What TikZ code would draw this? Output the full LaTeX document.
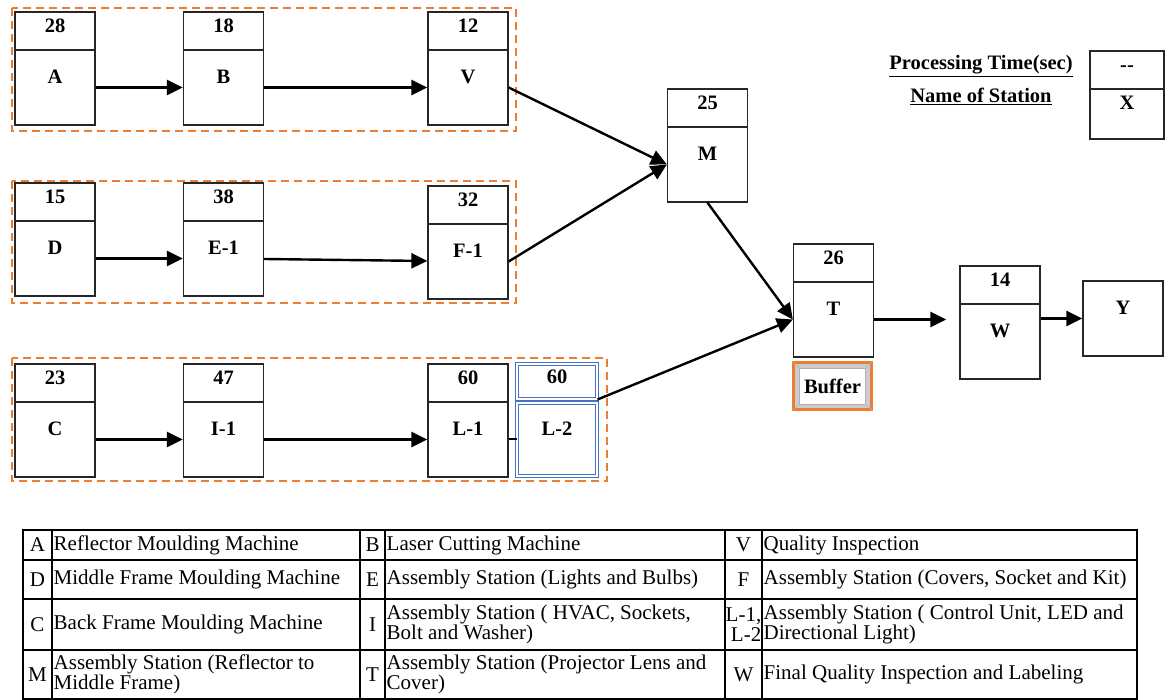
\documentclass[tikz,border=0pt]{standalone}
\usepackage{fontspec}
\setmainfont{Liberation Serif}
\usepackage{xcolor}
\usetikzlibrary{arrows.meta}
\definecolor{grporange}{HTML}{ED7D31}
\definecolor{lblue}{HTML}{4472C4}

\begin{document}
\begin{tikzpicture}[
x=1pt,y=-1pt,
font=\fontsize{20.5}{24}\selectfont\bfseries,
upper/.style={draw=black!85, line width=1.3pt, minimum width=80pt, minimum height=38pt, inner sep=0pt, text height=14pt, text depth=10pt, fill=white},
lower/.style={draw=black!85, line width=1.3pt, minimum width=80pt, minimum height=75pt, inner sep=0pt, text height=14pt, text depth=22pt, fill=white},
dbl/.style={draw=lblue, double, double distance=2pt, line width=1pt},
grp/.style={draw=grporange, line width=2pt, dash pattern=on 8pt off 5pt},
arr/.style={-{Triangle[length=16pt,width=15pt]}, line width=2.4pt},
bufout/.style={draw=grporange, line width=3pt, fill=gray!40, minimum width=78pt, minimum height=47pt, inner sep=0pt},
bufin/.style={draw=gray!60, line width=0.6pt, fill=white, minimum width=66pt, minimum height=36pt, inner sep=0pt},
tab/.style={font=\normalfont\fontsize{21}{20}\selectfont, inner sep=0pt, align=left, anchor=west},
key/.style={font=\normalfont\fontsize{21}{20}\selectfont, inner sep=0pt, align=right}
]
\useasboundingbox (0,0) rectangle (1165,700);
\draw[grp] (12,8) rectangle (516,131);
\draw[grp] (12,181) rectangle (516,303);
\draw[grp] (12,358) rectangle (607,481);
\foreach \n/\x/\d/\t/\l in {A/55/50/28/A, B/223.5/50/18/B, V/468/50/12/V, D/55/221/15/D, E1/223.5/221/38/E-1, F1/468/224/32/F-1, C/55/402/23/C, I1/223.5/402/47/I-1, L1/468/402/60/L-1, M/707.5/127/25/M, T/833.5/282/26/T, W/1000/304/14/W}
{\node[upper] (t\n) at (\x,\d-19) {\t}; \node[lower] (\n) at (\x,\d+37.5) {\l};}
\node[upper, dbl, minimum height=35pt] (tL2) at (557,381.5) {60};
\node[lower, dbl, minimum height=73pt] (L2) at (557,439.5) {L-2};
\node[lower] (Y) at (1123,318.5) {Y};
\node[bufout] (buf) at (832.5,386) {};
\node[bufin] (bufin) at (buf) {Buffer};
\foreach \c in {north west,north east,south west,south east} \draw[gray!60, line width=0.6pt] (buf.\c) -- (bufin.\c);
\node (ptime) at (981,66) {\underline{Processing Time(sec)}};
\node (sname) at (981,96) {\underline{Name of Station}};
\node[upper, minimum width=74pt] (tX) at (1127,70) {-{}-};
\node[lower, minimum width=74pt, minimum height=50pt] (X) at (1127,114) {X};
\draw[arr] (A) -- (B);
\draw[arr] (B) -- (V);
\draw[arr] (D) -- (E1);
\draw[arr] (E1) -- (F1);
\draw[arr] (C) -- (I1);
\draw[arr] (I1) -- (L1);
\draw[line width=2pt] (L1) -- (L2);
\draw[arr] (V.east) -- (M.west);
\draw[arr] (F1.east) -- (M.west);
\draw[arr] (M.south) -- (T.west);
\draw[arr] (tL2.south east) -- (T.west);
\draw[arr, shorten >=13pt] (T.east) -- (T.east -| W.west);
\draw[arr] (W.east |- Y.west) -- (Y.west);
\draw[line width=2.5pt] (23,530) rectangle (1137,699);
\foreach \y in {560,599,650} \draw[line width=1.5pt] (23,\y) -- (1137,\y);
\foreach \x in {52,360,385,725,762} \draw[line width=1.2pt] (\x,530) -- (\x,699);
\foreach \r/\y/\a/\da/\b/\db/\c/\dc in {
1/545/A/Reflector Moulding Machine/B/Laser Cutting Machine/V/Quality Inspection,
2/579.5/D/Middle Frame Moulding Machine/E/{Assembly Station (Lights and Bulbs)}/F/{Assembly Station (Covers, Socket and Kit)},
3/624.5/C/Back Frame Moulding Machine/I/{Assembly Station ( HVAC, Sockets,\\Bolt and Washer)}/{L-1,\\L-2}/{Assembly Station ( Control Unit, LED and\\Directional Light)},
4/674.5/M/{Assembly Station (Reflector to\\Middle Frame)}/T/{Assembly Station (Projector Lens and\\Cover)}/W/Final Quality Inspection and Labeling}
{\node[key] (ka\r) at (37.5,\y) {\a};
\node[tab] (da\r) at (53.5,\y) {\da};
\node[key] (kb\r) at (372.5,\y) {\b};
\node[tab] (db\r) at (386.5,\y) {\db};
\node[key] (kc\r) at (743.5,\y) {\c};
\node[tab] (dc\r) at (763.5,\y) {\dc};}
\end{tikzpicture}
\end{document}
